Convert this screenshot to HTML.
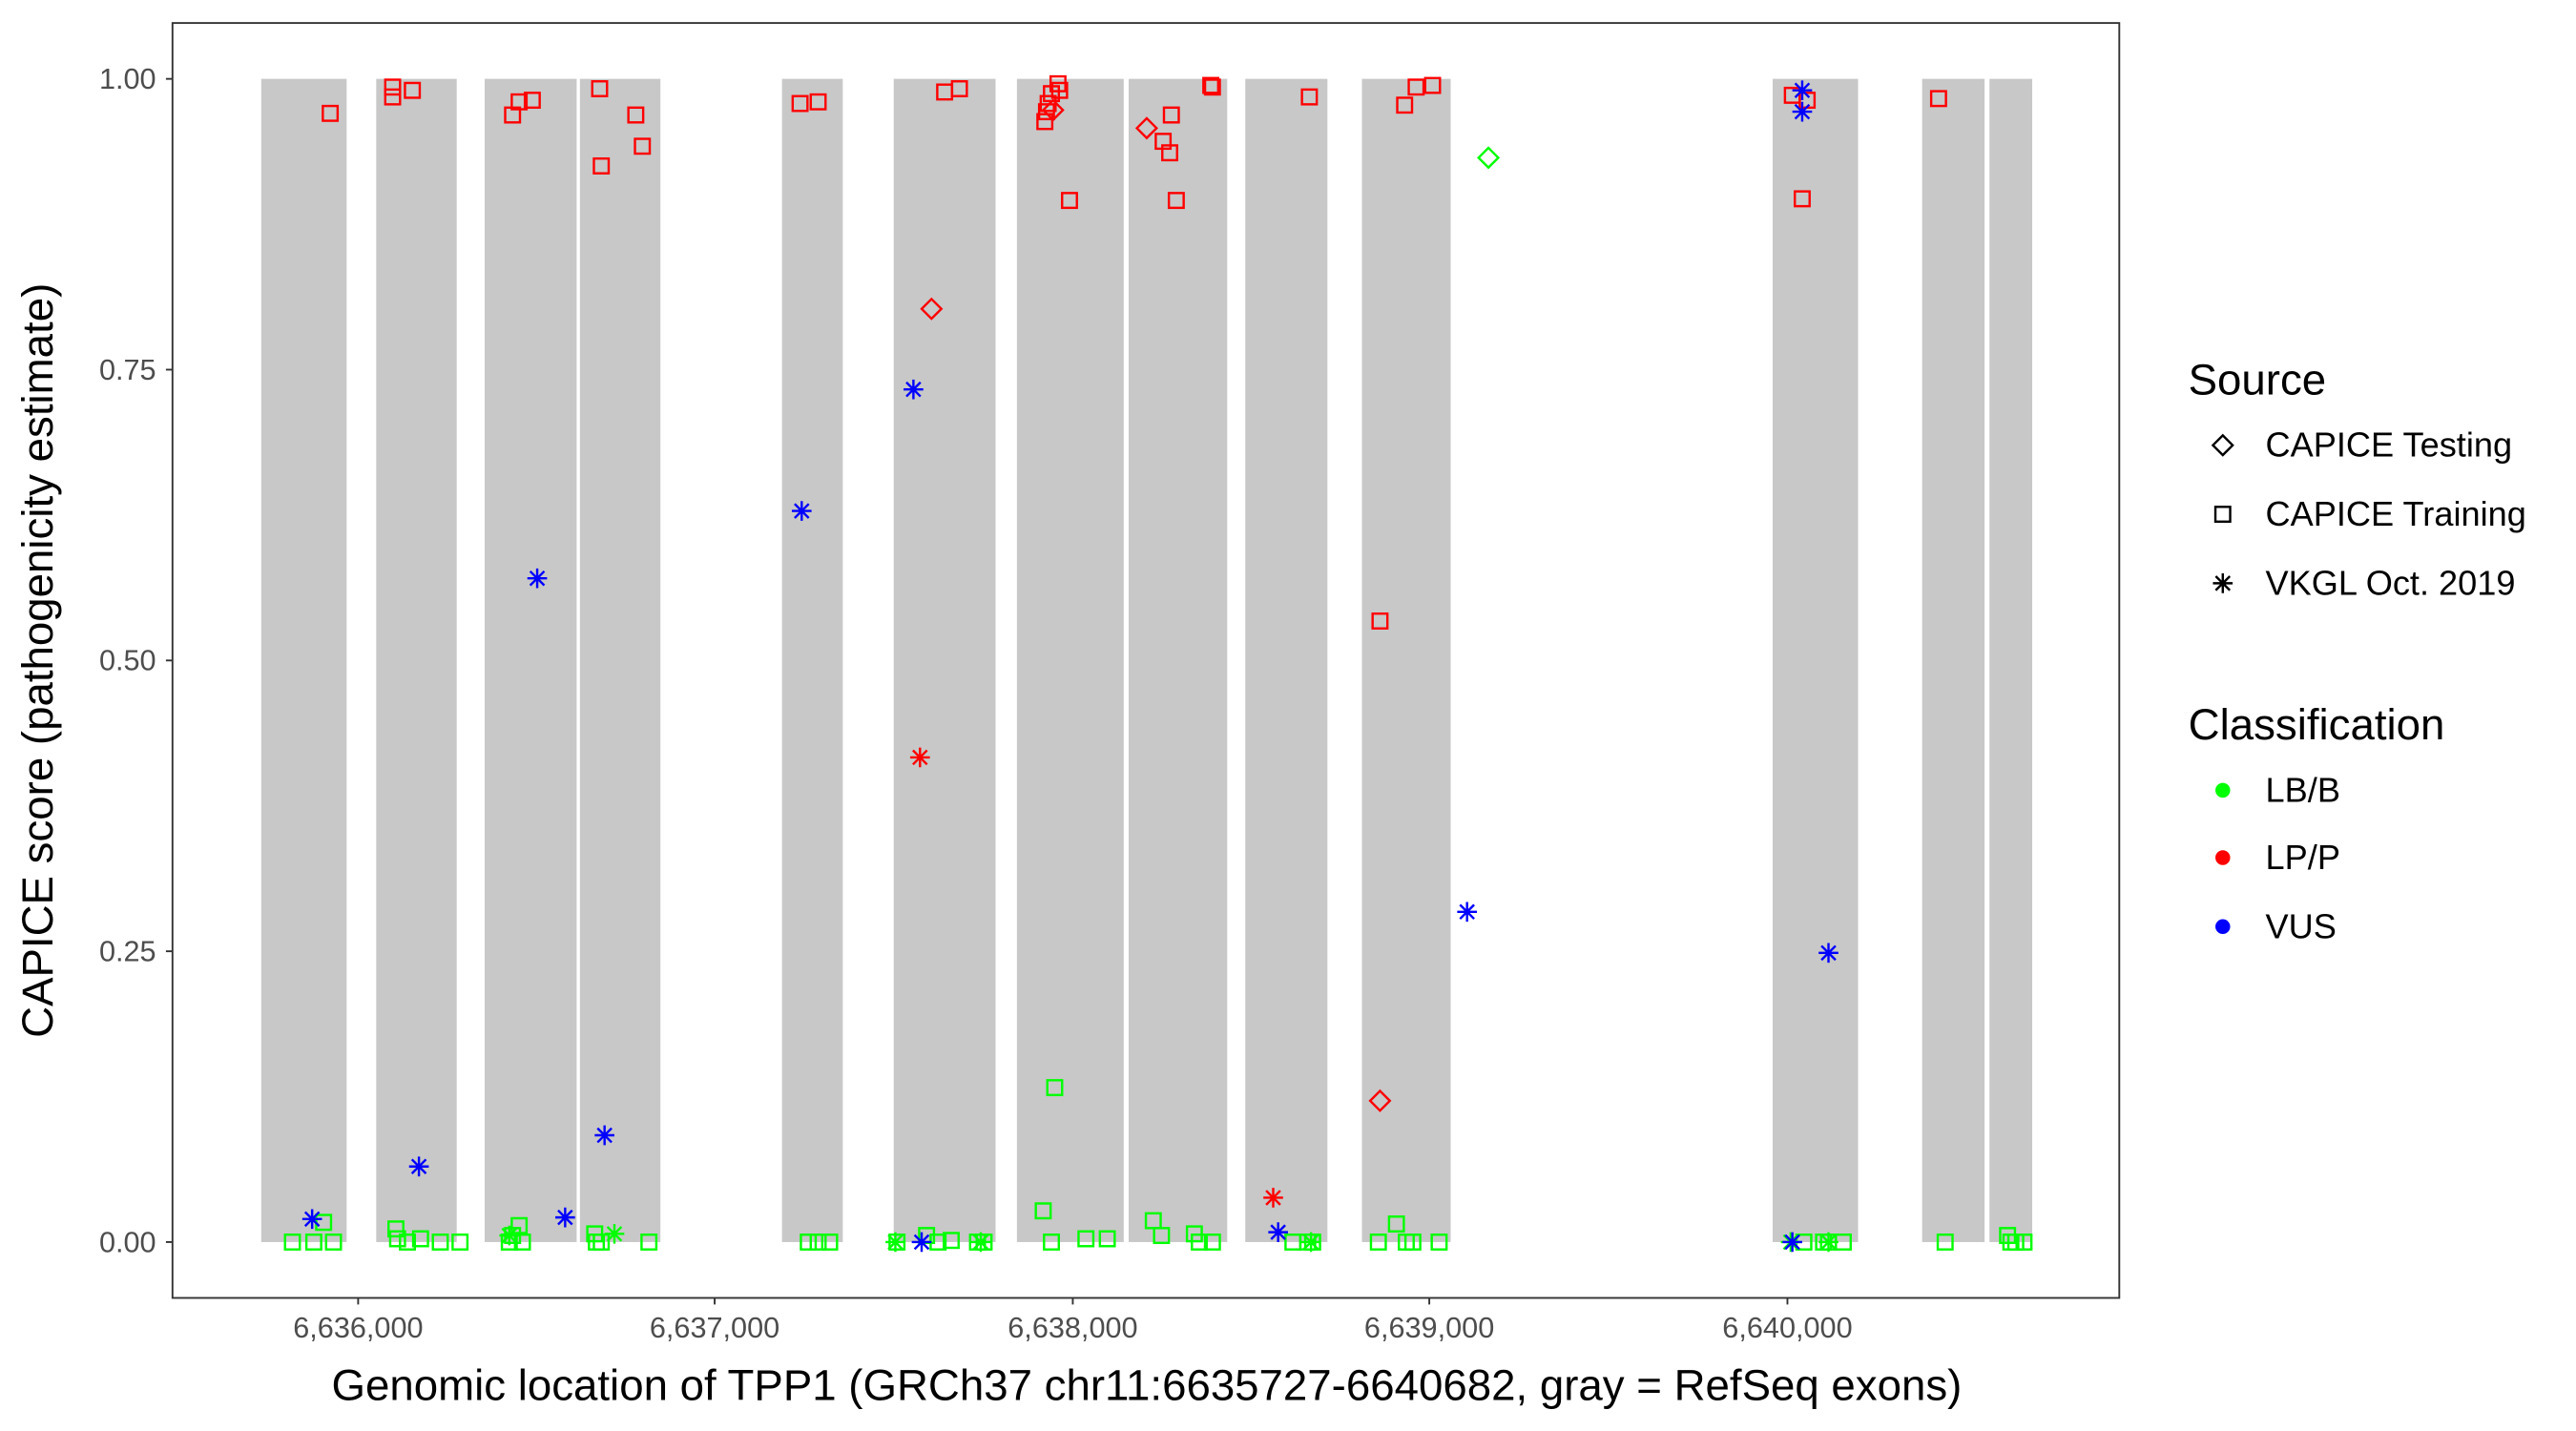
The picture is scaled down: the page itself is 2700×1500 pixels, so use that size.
<!DOCTYPE html>
<html><head><meta charset="utf-8"><style>
html,body{margin:0;padding:0;background:#fff;}
svg{display:block;}
text{font-family:"Liberation Sans",Arial,sans-serif;}
</style></head><body>
<svg id="s" width="2700" height="1500" viewBox="0 0 1568 871" preserveAspectRatio="none" xmlns="http://www.w3.org/2000/svg">
<rect x="0" y="0" width="1568" height="871" fill="#fff"/>
<g id="exons" fill="#c8c8c8"></g>
<g id="pts" fill="none" stroke-width="1.4"></g>
<rect x="105" y="14" width="1185" height="776" fill="none" stroke="#333" stroke-width="1.1"/>
<g stroke="#333" stroke-width="1.1">
<line x1="101" x2="105" y1="48" y2="48"/><line x1="101" x2="105" y1="225" y2="225"/>
<line x1="101" x2="105" y1="402" y2="402"/><line x1="101" x2="105" y1="579" y2="579"/>
<line x1="101" x2="105" y1="756" y2="756"/>
<line x1="218" x2="218" y1="790" y2="794"/><line x1="435" x2="435" y1="790" y2="794"/>
<line x1="653" x2="653" y1="790" y2="794"/><line x1="870" x2="870" y1="790" y2="794"/>
<line x1="1088" x2="1088" y1="790" y2="794"/>
</g>
<g fill="#4d4d4d" font-size="17.8" text-anchor="end">
<text x="95" y="54">1.00</text><text x="95" y="231">0.75</text><text x="95" y="408">0.50</text>
<text x="95" y="585">0.25</text><text x="95" y="762">0.00</text>
</g>
<g fill="#4d4d4d" font-size="17.8" text-anchor="middle">
<text x="218" y="814">6,636,000</text><text x="435" y="814">6,637,000</text><text x="653" y="814">6,638,000</text>
<text x="870" y="814">6,639,000</text><text x="1088" y="814">6,640,000</text>
</g>
<text x="698" y="852" font-size="26.5" text-anchor="middle" fill="#000">Genomic location of TPP1 (GRCh37 chr11:6635727-6640682, gray = RefSeq exons)</text>
<text transform="translate(32,402) rotate(-90)" font-size="26.5" text-anchor="middle" fill="#000">CAPICE score (pathogenicity estimate)</text>
<g fill="#000">
<text x="1332" y="240" font-size="26.5">Source</text>
<text x="1379" y="278" font-size="21">CAPICE Testing</text>
<text x="1379" y="320" font-size="21">CAPICE Training</text>
<text x="1379" y="362" font-size="21">VKGL Oct. 2019</text>
<text x="1332" y="450" font-size="26.5">Classification</text>
<text x="1379" y="488" font-size="21">LB/B</text>
<text x="1379" y="529" font-size="21">LP/P</text>
<text x="1379" y="571" font-size="21">VUS</text>
</g>
<g id="leg" fill="none" stroke="#000" stroke-width="1.4"></g>
<circle cx="1353" cy="481" r="4.5" fill="#00ff00"/>
<circle cx="1353" cy="522" r="4.5" fill="#ff0000"/>
<circle cx="1353" cy="564" r="4.5" fill="#0000ff"/>
</svg>
<script>
var NS="http://www.w3.org/2000/svg";
var ex=[[159,211],[229,278],[295,351],[353,402],[476,513],[544,606],[619,684],[687,747],[758,808],[829,883],[1079,1131],[1170,1208],[1211,1237]];
var eg=document.getElementById('exons');
ex.forEach(function(e){var r=document.createElementNS(NS,'rect');r.setAttribute('x',e[0]);r.setAttribute('y',48);r.setAttribute('width',e[1]-e[0]);r.setAttribute('height',708);eg.appendChild(r);});
function mk(g,t,x,y,c){
  var el;
  if(t=='s'){el=document.createElementNS(NS,'rect');el.setAttribute('x',x-4.5);el.setAttribute('y',y-4.5);el.setAttribute('width',9);el.setAttribute('height',9);}
  else if(t=='d'){el=document.createElementNS(NS,'path');el.setAttribute('d','M'+x+','+(y-6)+'L'+(x+6)+','+y+'L'+x+','+(y+6)+'L'+(x-6)+','+y+'Z');}
  else {var r=6,q=4.3;el=document.createElementNS(NS,'path');el.setAttribute('d','M'+x+','+(y-r)+'V'+(y+r)+'M'+(x-r)+','+y+'H'+(x+r)+'M'+(x-q)+','+(y-q)+'L'+(x+q)+','+(y+q)+'M'+(x-q)+','+(y+q)+'L'+(x+q)+','+(y-q));}
  el.setAttribute('stroke',c);g.appendChild(el);
}
var P=document.getElementById('pts');
var R='#ff0000',G='#00ff00',B='#0000ff';
var gs=[[178,756],[191,756],[197,744],[203,756],[241,748],[242,754],[248,756],[256,754],[268,756],[280,756],[310,756],[312,752],[316,746],[318,756],[362,751],[363,756],[366,756],[395,756],[492,756],[498,756],[505,756],[546,756],[564,752],[571,756],[579,755],[595,756],[599,756],[635,737],[642,662],[640,756],[661,754],[674,754],[702,743],[707,752],[727,751],[730,756],[738,756],[787,756],[796,756],[799,756],[839,756],[850,745],[856,756],[860,756],[876,756],[1098,756],[1110,756],[1113,756],[1122,756],[1184,756],[1222,752],[1224,756],[1227,756],[1232,756]];
gs.forEach(function(p){mk(P,'s',p[0],p[1],G);});
[[310,752],[374,751],[545,756],[597,756],[798,756],[1113,756],[1090,756]].forEach(function(p){mk(P,'a',p[0],p[1],G);});
var rs=[[201,69],[239,53],[239,59],[251,55],[312,70],[316,62],[324,61],[365,54],[387,70],[366,101],[391,89],[487,63],[498,62],[575,56],[584,54],[636,74],[637,68],[638,63],[640,57],[644,51],[645,55],[651,122],[713,70],[708,86],[712,93],[716,122],[737,52],[738,53],[797,59],[855,64],[862,53],[872,52],[840,378],[1091,58],[1100,61],[1097,121],[1180,60]];
rs.forEach(function(p){mk(P,'s',p[0],p[1],R);});
[[567,188],[641,67],[698,78],[840,670]].forEach(function(p){mk(P,'d',p[0],p[1],R);});
mk(P,'d',906,96,G);
[[560,461],[775,729]].forEach(function(p){mk(P,'a',p[0],p[1],R);});
[[190,742],[255,710],[327,352],[344,741],[368,691],[488,311],[556,237],[561,756],[778,750],[893,555],[1091,756],[1097,55],[1097,68],[1113,580]].forEach(function(p){mk(P,'a',p[0],p[1],B);});
var L=document.getElementById('leg');
mk(L,'d',1353,271,'#000');mk(L,'s',1353,313,'#000');mk(L,'a',1353,355,'#000');
</script>
</body></html>
